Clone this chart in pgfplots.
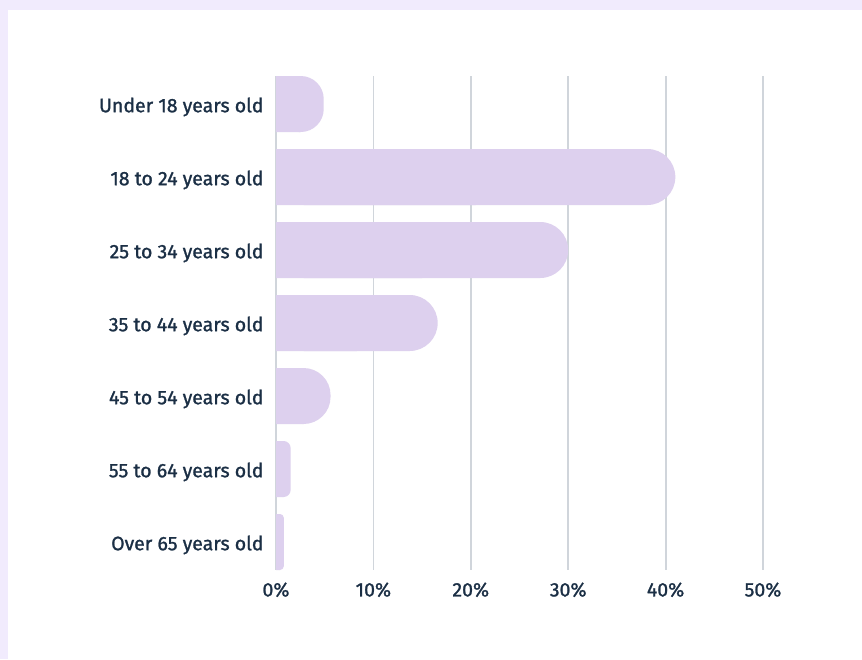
\documentclass[border=0pt]{standalone}
\usepackage{pgfplots}
\pgfplotsset{compat=1.18}
\usepackage{fontspec}
\setmainfont{Fira Sans}
\newfontfamily\lblfont{Fira Sans}[FakeBold=1.2]
\definecolor{framec}{HTML}{F1EBFD}
\definecolor{barc}{HTML}{DDD0EE}
\definecolor{txt}{HTML}{1B2F45}
\definecolor{gridc}{HTML}{D0D5DB}
\begin{document}
\begin{tikzpicture}[x=1pt,y=1pt]
\path[use as bounding box] (0,0) rectangle (862,659);
\fill[framec] (0,0) rectangle (862,659);
\fill[white] (8,0) rectangle (862,649);
\begin{axis}[
  at={(276pt,89pt)}, anchor=south west,
  scale only axis, width=487pt, height=494pt,
  xmin=0, xmax=50,
  ymin=-0.383562, ymax=6.383562, y dir=reverse,
  axis line style={draw=none},
  major tick length=0pt,
  xtick={0,10,20,30,40,50},
  xticklabels={0\%,10\%,20\%,30\%,40\%,50\%},
  ytick={0,1,2,3,4,5,6},
  yticklabels={Under 18 years old,18 to 24 years old,25 to 34 years old,35 to 44 years old,45 to 54 years old,55 to 64 years old,Over 65 years old},
  xmajorgrids, major grid style={draw=gridc, line width=1.8pt},
  ticklabel style={font=\lblfont\fontsize{19.5}{21}\selectfont, text=txt},
  xticklabel style={yshift=-9pt},
  yticklabel style={xshift=-9pt, yshift=-3pt},
  clip=false,
  every axis plot/.append style={xbar, bar shift=0pt, bar width=56pt, fill=barc, draw=none, mark=none},
]
% rounded bars (radius per bar so the rounding fits)
\addplot[rounded corners=28pt] coordinates {(41.0,1) (30.0,2) (16.6,3)};
\addplot[rounded corners=27pt] coordinates {(5.6,4)};
\addplot[rounded corners=23pt] coordinates {(4.9,0)};
\addplot[rounded corners=7pt] coordinates {(1.5,5)};
\addplot[rounded corners=3.8pt] coordinates {(0.8,6)};
% square-off the left ends
\addplot[fill=barc] coordinates {(2.45,0) (20.5,1) (15.0,2) (8.3,3) (2.8,4) (0.75,5) (0.4,6)};
\end{axis}
\end{tikzpicture}
\end{document}
